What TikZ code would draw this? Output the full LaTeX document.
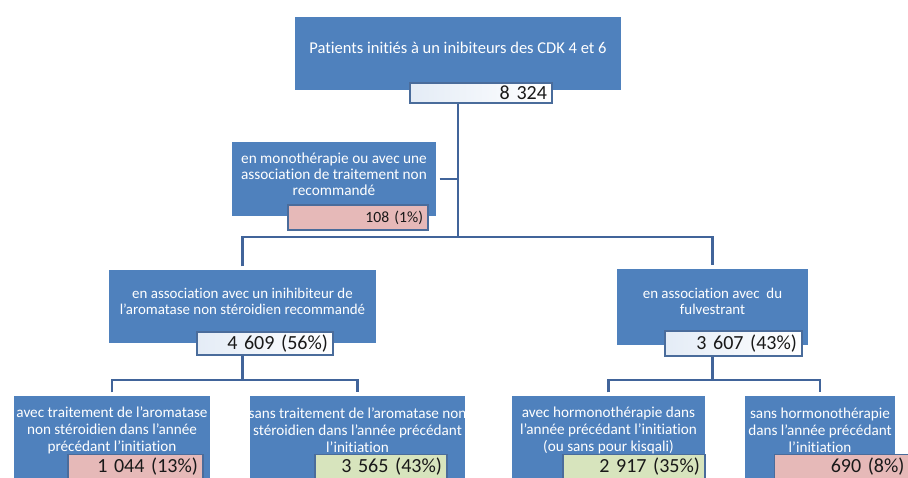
\documentclass[tikz,border=0pt]{standalone}
\usepackage{fontspec}
\setmainfont{Carlito}[Ligatures={TeX,NoCommon}]
\definecolor{boxblue}{HTML}{4F81BD}
\definecolor{linkblue}{HTML}{41649A}
\definecolor{valedge}{HTML}{4A6C9B}
\definecolor{valtint}{HTML}{E4ECF6}
\definecolor{valpink}{HTML}{E6B9B8}
\definecolor{valgreen}{HTML}{D7E4BD}
\definecolor{framegray}{HTML}{BCBCBC}
\begin{document}
\begin{tikzpicture}[x=0.02cm,y=-0.02cm,
  bluebox/.style={fill=boxblue,draw=white,line width=1.8pt,
    preaction={draw=framegray,line width=2.8pt},inner sep=0pt},
  boxtext/.style={text=white,align=center,inner sep=0pt,
    font=\fontsize{8.5}{9.2}\selectfont},
  lowtext/.style={boxtext,font=\fontsize{8.65}{9.7}\selectfont},
  valbox/.style={draw=valedge,line width=.8pt,left color=valtint,right color=white,
    inner xsep=.1cm,inner ysep=0pt,align=right,text=black!90,
    font=\fontsize{11.4}{12}\selectfont},
  pinkval/.style={valbox,left color=valpink,right color=valpink},
  greenval/.style={valbox,left color=valgreen,right color=valgreen},
  link/.style={linkblue,line width=1.2pt}]
  \useasboundingbox (0,0) rectangle (908,477);
  \clip (0,0) rectangle (908,477);

  \node[bluebox,minimum width=6.6cm,minimum height=1.54cm] (top) at (458,53.5) {};
  \node[boxtext,font=\fontsize{9.4}{10}\selectfont] (top-t) at (458,48) {Patients initiés à un inibiteurs des CDK 4 et 6};
  \node[valbox,text width=2.64cm,minimum height=.4cm] (top-v) at (481,93) {8 324};

  \node[bluebox,minimum width=4.16cm,minimum height=1.56cm] (mono) at (334,179) {};
  \node[boxtext,font=\fontsize{8.7}{9.2}\selectfont] (mono-t) at (334,174) {en monothérapie ou avec une\\association de traitement non\\recommandé};
  \node[pinkval,text width=2.6cm,minimum height=.5cm,font=\fontsize{8.9}{10}\selectfont] (mono-v) at (358,217.5) {108 (1\%)};

  \node[bluebox,minimum width=5.42cm,minimum height=1.54cm] (ains) at (242.5,306.5) {};
  \node[boxtext] (ains-t) at (242.5,301.5) {en association avec un inihibiteur de\\l'aromatase non stéroidien recommandé};
  \node[valbox,text width=2.52cm,minimum height=.46cm] (ains-v) at (265,343.5) {4 609 (56\%)};

  \node[bluebox,minimum width=3.9cm,minimum height=1.6cm] (fulv) at (712.5,307) {};
  \node[boxtext] (fulv-t) at (712.5,301.5) {en association avec\ \ du\\fulvestrant};
  \node[valbox,text width=2.54cm,minimum height=.5cm] (fulv-v) at (733.5,343.5) {3 607 (43\%)};

  \node[bluebox,minimum width=4cm,minimum height=1.8cm] (ains-a) at (112,439) {};
  \node[lowtext] (ains-a-t) at (112,430) {avec traitement de l'aromatase\\non stéroidien dans l'année\\précédant l'initiation};
  \node[pinkval,text width=2.5cm,minimum height=.5cm] (ains-a-v) at (135.5,467) {1 044 (13\%)};

  \node[bluebox,minimum width=4.38cm,minimum height=1.8cm] (ains-s) at (357.5,439) {};
  \node[lowtext] (ains-s-t) at (357.5,430) {sans traitement de l'aromatase non\\stéroidien dans l'année précédant\\l'initiation};
  \node[greenval,text width=2.44cm,minimum height=.5cm] (ains-s-v) at (381,467) {3 565 (43\%)};

  \node[bluebox,minimum width=3.94cm,minimum height=1.8cm] (fulv-a) at (608.5,439) {};
  \node[lowtext] (fulv-a-t) at (608.5,430) {avec hormonothérapie dans\\l'année précédant l'initiation\\(ou sans pour kisqali)};
  \node[greenval,text width=2.64cm,minimum height=.5cm] (fulv-a-v) at (634,467) {2 917 (35\%)};

  \node[bluebox,minimum width=3.08cm,minimum height=1.8cm] (fulv-s) at (820,439) {};
  \node[lowtext] (fulv-s-t) at (820,430) {sans hormonothérapie\\dans l'année précédant\\l'initiation};
  \node[pinkval,text width=2.5cm,minimum height=.5cm] (fulv-s-v) at (842,467) {690 (8\%)};

  \coordinate (bar1) at (458,237);
  \coordinate (bar2) at (242.5,380);
  \coordinate (bar3) at (712.5,380);
  \draw[link] (top-v.south -| top.center) -- (bar1);
  \draw[link] (mono.east) -- (mono.east -| bar1);
  \draw[link] (ains.north) |- (bar1) -| (fulv.north);
  \draw[link] (ains-v.south -| ains.center) -- (bar2);
  \draw[link] (ains-a.north) |- (bar2) -| (ains-s.north);
  \draw[link] (fulv-v.south -| fulv.center) -- (bar3);
  \draw[link] (fulv-a.north) |- (bar3) -| (fulv-s.north);
\end{tikzpicture}
\end{document}
